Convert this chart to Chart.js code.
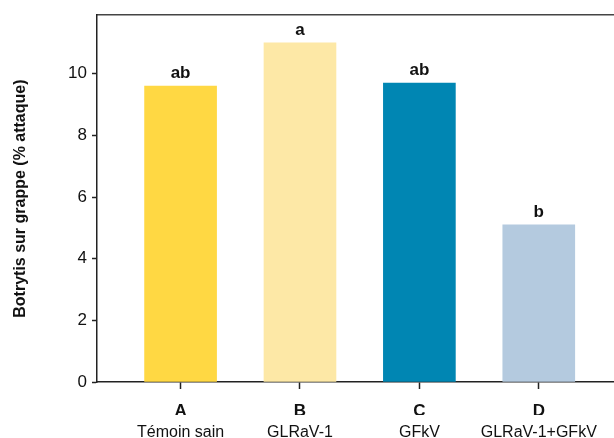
<!DOCTYPE html>
<html>
<head>
<meta charset="utf-8">
<script src="https://cdn.jsdelivr.net/npm/chart.js@4"></script>
<style>
  html, body { margin: 0; padding: 0; background: #fff; }
  #wrap { width: 614px; height: 438px; }
</style>
</head>
<body>
<div id="wrap"><canvas id="canvas"></canvas></div>
<script>
var categories = ["A", "B", "C", "D"];
var names = ["Témoin sain", "GLRaV-1", "GFkV", "GLRaV-1+GFkV"];
var values = [9.6, 11.0, 9.7, 5.1];
var letters = ["ab", "a", "ab", "b"];
var yTicks = [0, 2, 4, 6, 8, 10];
var barColors = ["#ffd843", "#fde8a6", "#0086b3", "#b4cadf"];

var FONT = "'Liberation Sans', Arial, sans-serif";

// letters of significance above each bar
var lettersPlugin = {
  id: "letters",
  afterDatasetsDraw: function (chart) {
    var ctx = chart.ctx;
    var meta = chart.getDatasetMeta(0);
    ctx.save();
    ctx.font = "bold 17px " + FONT;
    ctx.fillStyle = "#111";
    ctx.textAlign = "center";
    ctx.textBaseline = "alphabetic";
    meta.data.forEach(function (bar, i) {
      ctx.fillText(letters[i], bar.x, bar.y - 8);
    });
    ctx.restore();
  }
};

var ctx = document.getElementById("canvas");

var chart = new Chart(ctx, {
  type: "bar",
  data: {
    datasets: [
      {
        data: values.map(function (v, i) {
          return { x: i, y: v };
        }),
        backgroundColor: barColors,
        borderWidth: 0,
        barThickness: 72
      }
    ]
  },
  options: {
    responsive: true,
    maintainAspectRatio: false,
    animation: false,
    layout: { padding: { left: 0, top: 13, right: 0, bottom: 0 } },
    plugins: {
      legend: { display: false },
      tooltip: { enabled: false }
    },
    scales: {
      x: {
        type: "linear",
        position: "bottom",
        offset: false,
        min: -0.7,
        max: 3.63,
        grid: { display: true, offset: false, drawOnChartArea: false, tickLength: 7, color: "#222", tickWidth: 1.5 },
        border: { display: true, color: "#222", width: 1.5 },
        afterBuildTicks: function (scale) {
          scale.ticks = categories.map(function (c, i) { return { value: i }; });
        },
        ticks: {
          autoSkip: false,
          maxRotation: 0,
          padding: 12,
          color: "#111",
          font: { family: FONT, size: 17, weight: "bold" },
          callback: function (v) { return categories[v]; }
        },
        afterFit: function (scale) { scale.height = 33; }
      },
      x2: {
        type: "linear",
        position: "bottom",
        offset: false,
        min: -0.7,
        max: 3.63,
        grid: { display: false, offset: false },
        border: { display: false },
        afterBuildTicks: function (scale) {
          scale.ticks = names.map(function (c, i) { return { value: i }; });
        },
        ticks: {
          autoSkip: false,
          maxRotation: 0,
          padding: 0,
          color: "#111",
          font: { family: FONT, size: 16 },
          callback: function (v) { return names[v]; }
        },
        afterFit: function (scale) { scale.height = 23; }
      },
      top: {
        type: "linear",
        position: "top",
        min: 0,
        max: 1,
        grid: { display: false },
        border: { display: true, color: "#444", width: 1.5 },
        ticks: { display: false },
        afterFit: function (scale) { scale.height = 0; }
      },
      y: {
        min: 0,
        max: 11.9,
        grid: { display: true, drawOnChartArea: false, tickLength: 5, color: "#222", tickWidth: 1.5 },
        border: { display: true, color: "#222", width: 1.5 },
        afterBuildTicks: function (scale) {
          scale.ticks = yTicks.map(function (v) { return { value: v }; });
        },
        ticks: {
          padding: 5,
          color: "#111",
          font: { family: FONT, size: 17 }
        },
        title: {
          display: true,
          text: "Botrytis sur grappe (% attaque)",
          color: "#111",
          font: { family: FONT, size: 16, weight: "bold" },
          padding: { top: 11, bottom: 0 }
        },
        afterFit: function (scale) { scale.width = 97; }
      }
    }
  },
  plugins: [lettersPlugin]
});
</script>
</body>
</html>
